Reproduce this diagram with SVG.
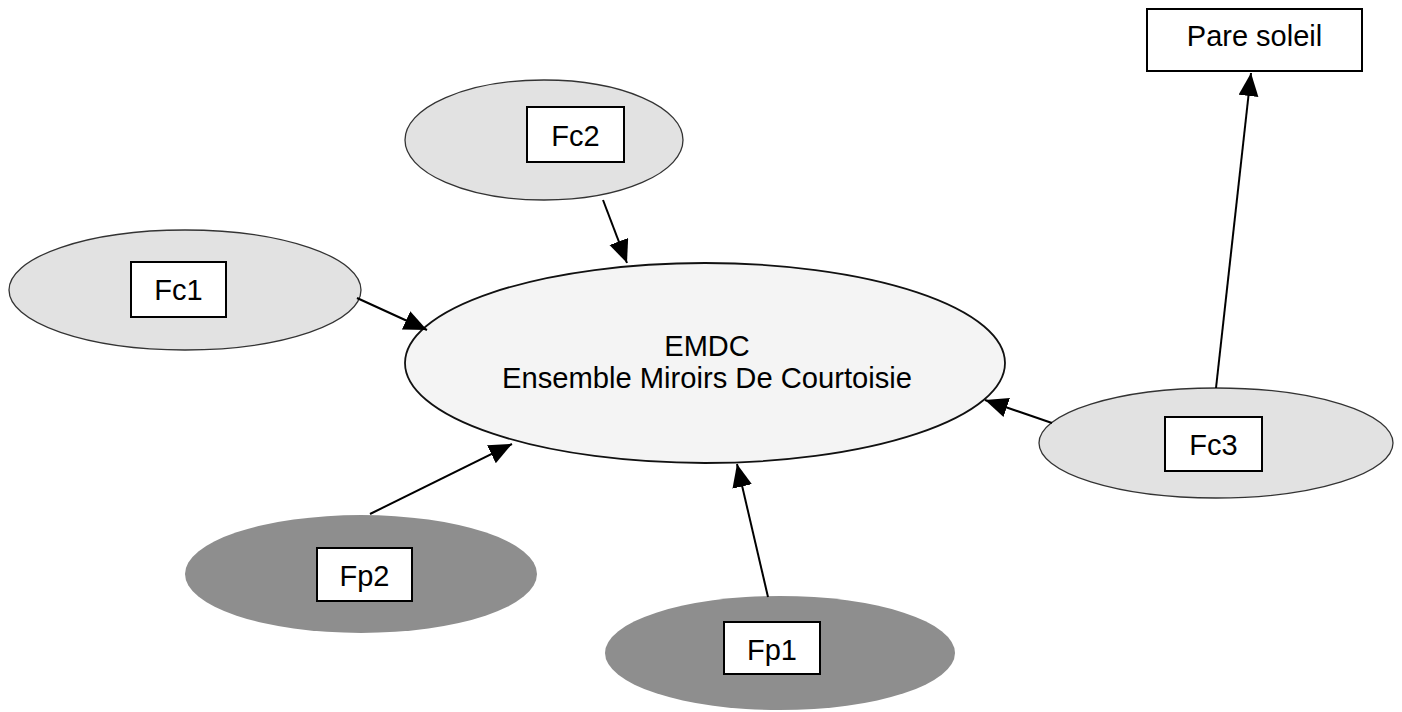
<svg xmlns="http://www.w3.org/2000/svg" width="1402" height="712" viewBox="0 0 1402 712">
<style>
.light{fill:#e2e2e2;stroke:#333;stroke-width:1.3}
.main{fill:#f4f4f4;stroke:#111;stroke-width:1.8}
.dark{fill:#8e8e8e;stroke:none}
.box{fill:#fff;stroke:#000;stroke-width:2}
.lbl{font-family:"Liberation Sans",Arial,sans-serif;font-size:29px;fill:#000;text-anchor:middle}
.conn{stroke:#000;stroke-width:2;fill:none;marker-end:url(#arr)}
</style>
<defs>
<marker id="arr" markerUnits="userSpaceOnUse" markerWidth="26" markerHeight="22" refX="23" refY="10" orient="auto">
<path d="M0,0 L23,10 L0,20 Z" fill="#000"/>
</marker>
</defs>
<rect width="1402" height="712" fill="#fff"/>
<g id="fc2">
<ellipse class="light" cx="544" cy="140" rx="139" ry="60"/>
<rect class="box" x="527" y="107" width="97" height="55"/>
<text class="lbl" x="575.5" y="146">Fc2</text>
</g>
<g id="fc1">
<ellipse class="light" cx="185" cy="290" rx="176" ry="60"/>
<rect class="box" x="131" y="262" width="95" height="55"/>
<text class="lbl" x="178.5" y="300">Fc1</text>
</g>
<g id="emdc">
<ellipse class="main" cx="705" cy="363" rx="300" ry="100"/>
<text class="lbl" x="707" y="356">EMDC</text>
<text class="lbl" x="707" y="388" textLength="410" lengthAdjust="spacingAndGlyphs">Ensemble Miroirs De Courtoisie</text>
</g>
<g id="fc3">
<ellipse class="light" cx="1216" cy="443" rx="177" ry="55"/>
<rect class="box" x="1165" y="417" width="97" height="54"/>
<text class="lbl" x="1213.5" y="455">Fc3</text>
</g>
<g id="pare-soleil">
<rect class="box" x="1147" y="9" width="215" height="62"/>
<text class="lbl" x="1254.5" y="46">Pare soleil</text>
</g>
<g id="fp2">
<ellipse class="dark" cx="361" cy="574" rx="176" ry="59"/>
<rect class="box" x="317" y="548" width="95" height="53"/>
<text class="lbl" x="364.5" y="586">Fp2</text>
</g>
<g id="fp1">
<ellipse class="dark" cx="780" cy="653" rx="175" ry="57"/>
<rect class="box" x="724" y="622" width="96" height="52"/>
<text class="lbl" x="772" y="660">Fp1</text>
</g>
<g id="connectors">
<line class="conn" x1="603" y1="200" x2="627" y2="263"/>
<line class="conn" x1="357" y1="298" x2="427" y2="330"/>
<line class="conn" x1="370" y1="514" x2="512" y2="444"/>
<line class="conn" x1="768" y1="597" x2="737" y2="464"/>
<line class="conn" x1="1052" y1="423" x2="985" y2="400"/>
<line class="conn" x1="1216" y1="388" x2="1251" y2="73"/>
</g>
</svg>
